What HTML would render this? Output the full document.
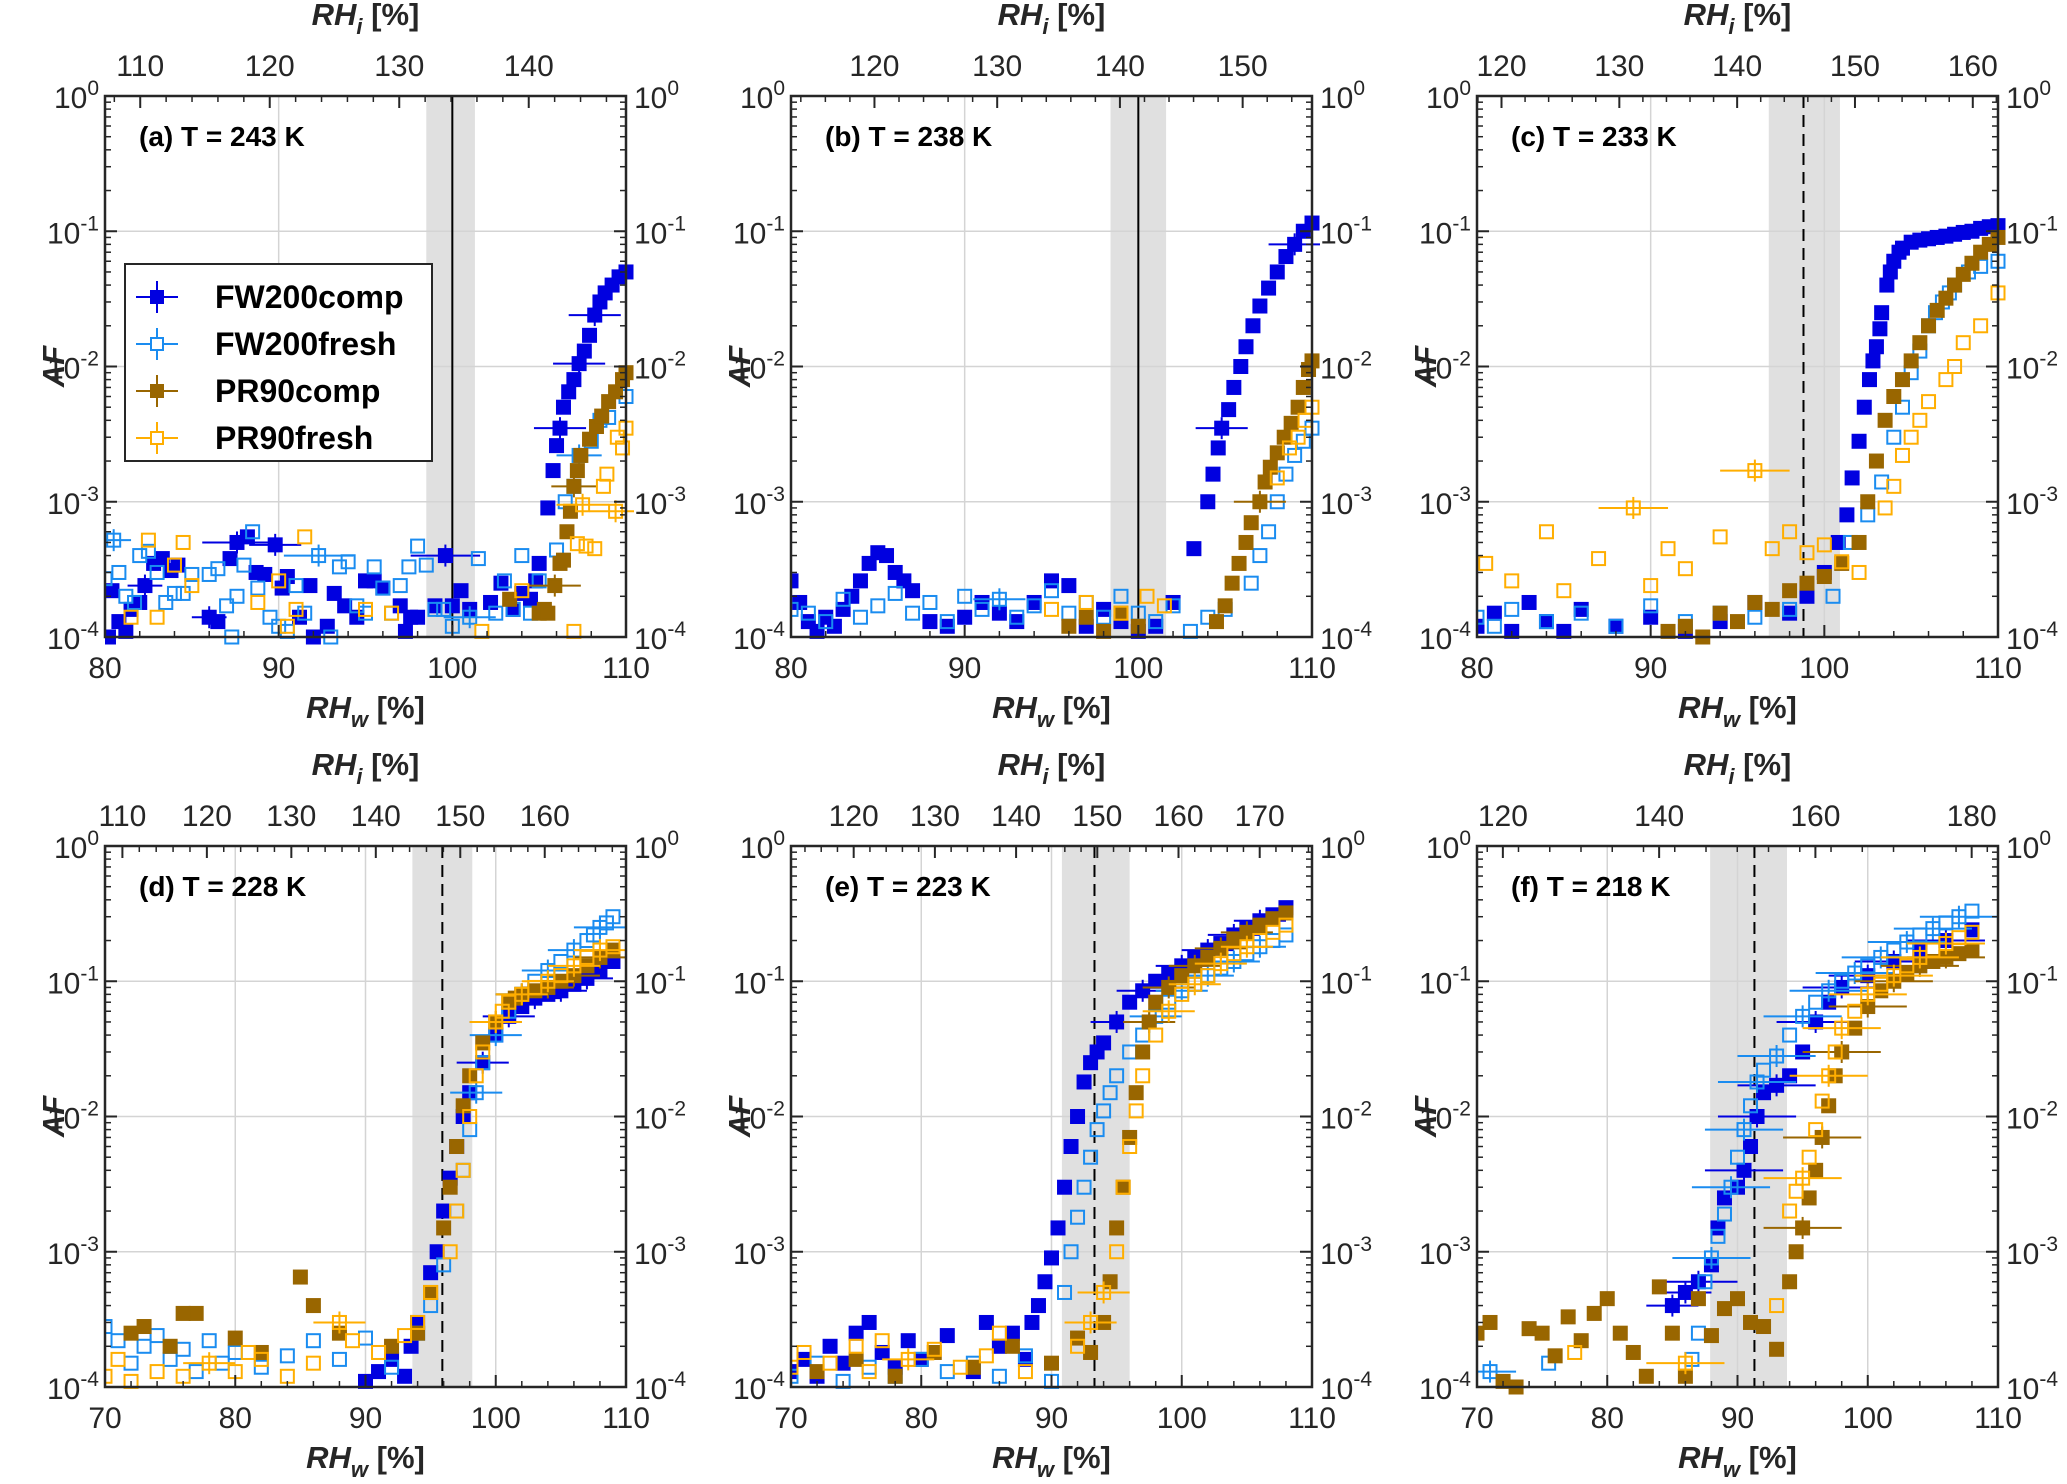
<!DOCTYPE html>
<html><head><meta charset="utf-8">
<style>
html,body{margin:0;padding:0;background:#fff;}
svg{display:block;font-family:"Liberation Sans",Arial,sans-serif;}
</style></head>
<body>
<svg id="fig" width="2067" height="1484" viewBox="0 0 2067 1484" xmlns="http://www.w3.org/2000/svg"></svg>
<script>
// ===== DATA: [RHw, AF, xerr(optional)] =====
const seriesNames = ["FW200comp","FW200fresh","PR90comp","PR90fresh"];
const titles = ["(a) T = 243 K","(b) T = 238 K","(c) T = 233 K","(d) T = 228 K","(e) T = 223 K","(f) T = 218 K"];
const xRanges = [[80,110],[80,110],[80,110],[70,110],[70,110],[70,110]];
const bottomTicks = [[80,90,100,110],[80,90,100,110],[80,90,100,110],[70,80,90,100,110],[70,80,90,100,110],[70,80,90,100,110]];
const rhiRatio = [1.341,1.415,1.474,1.542,1.604,1.667];
const topTicks = [[110,120,130,140],[120,130,140,150],[120,130,140,150,160],[110,120,130,140,150,160],[120,130,140,150,160,170],[120,140,160,180]];
const bands = [[98.5,101.3],[98.4,101.6],[96.8,100.9],[93.6,98.2],[90.8,96.0],[87.9,93.8]];
const refLines = [100,100,98.8,95.9,93.3,91.3];
const refDashed = [false,false,true,true,true,true];

const a_FWcomp=[[80.2,1e-4],[80.4,2.2e-4],[80.8,1.3e-4],[81.2,1.1e-4],[81.5,1.6e-4],[82,1.8e-4],[82.3,2.4e-4,1],[82.8,3.5e-4],[83.3,3.8e-4],[83.8,3.1e-4],[84.2,3.4e-4],[86,1.4e-4,1],[86.5,1.3e-4],[87.2,3.8e-4],[87.6,5e-4,2],[88.2,5.5e-4],[88.7,3e-4],[89.2,2.9e-4],[89.8,4.8e-4,1.5],[90.2,2.3e-4],[90.5,2.8e-4],[91.2,1.4e-4],[91.8,2.4e-4],[92,1e-4],[92.8,1.2e-4],[93.2,2.1e-4],[93.8,1.7e-4],[94.5,1.4e-4],[95,2.6e-4],[95.5,2.6e-4],[96,2.3e-4],[97,1.7e-4],[97.3,1.1e-4],[97.6,1.4e-4],[98,1.4e-4],[99,1.7e-4],[99.6,4e-4,2],[100,1.7e-4],[100.5,2.2e-4],[101,1.6e-4],[102.2,1.8e-4],[102.8,2.5e-4],[103.5,1.6e-4],[104,2.1e-4],[104.5,1.9e-4],[104.8,2.6e-4],[105,3.5e-4],[105.5,9e-4],[105.8,1.7e-3],[106,2.6e-3],[106.2,3.5e-3,1.5],[106.4,5e-3],[106.7,6.5e-3],[107,8e-3],[107.3,1.05e-2,1.5],[107.6,1.3e-2],[107.9,1.7e-2],[108.2,2.4e-2,1.5],[108.5,3e-2],[108.8,3.5e-2],[109.2,4e-2],[109.6,4.6e-2],[110,5e-2]];
const a_FWfresh=[[80,2.7e-4],[80.5,5.2e-4,1],[80.8,3e-4],[81.2,2e-4],[81.7,1.8e-4],[82,4e-4],[82.5,4.3e-4],[83,3e-4],[83.5,1.8e-4],[84,2.1e-4],[84.5,2.1e-4],[85,2.9e-4],[86,2.9e-4],[86.5,3.2e-4],[87,1.7e-4],[87.3,1e-4],[87.6,2e-4],[88,3.4e-4],[88.5,6e-4],[88.8,2.3e-4],[89.5,1.4e-4],[90,1.2e-4],[90.5,1.1e-4],[91,2.4e-4],[91.5,1.5e-4],[92.3,4e-4,2],[93,1e-4],[93.5,3.3e-4],[94,3.6e-4],[94.5,1.7e-4],[95,1.5e-4],[95.5,3.3e-4],[96,2.3e-4],[96.5,1.5e-4],[97,2.4e-4],[97.5,3.3e-4],[98,4.7e-4],[98.5,3.4e-4],[99,1.6e-4],[99.5,1.6e-4],[100,1.2e-4],[101,1.4e-4,1.5],[101.5,3.8e-4],[102.5,1.5e-4],[103,2.6e-4],[103.5,1.6e-4],[104,4e-4],[104.5,1.5e-4],[105,2.6e-4],[106,4.4e-4],[106.5,1e-3],[107,1.3e-3],[107.3,2.2e-3,1.3],[108,2.8e-3],[108.5,4e-3],[109,4.2e-3],[110,6e-3]];
const a_PRcomp=[[103.3,1.9e-4],[105,1.5e-4],[105.3,1.6e-4],[105.5,1.5e-4],[105.9,2.4e-4,1.5],[106.2,3.5e-4],[106.4,3.7e-4],[106.6,6e-4],[106.8,8.5e-4],[107,1.3e-3,1.3],[107.2,1.7e-3],[107.4,2.2e-3],[107.9,2.9e-3],[108.3,3.6e-3],[108.6,4.3e-3],[109,5.5e-3],[109.4,6.5e-3],[109.8,8e-3],[110,9e-3]];
const a_PRfresh=[[81.5,1.4e-4],[82.5,5.2e-4],[83,1.4e-4],[84,3.4e-4],[84.5,5e-4],[85,2.4e-4],[88.8,1.8e-4],[90,2.6e-4],[90.5,1.2e-4],[91,1.6e-4],[91.5,5.5e-4],[95,1.6e-4],[96.5,1.5e-4],[101.7,1.1e-4],[104,2.2e-4],[107,1.1e-4],[107.2,4.9e-4],[107.5,9.5e-4,1.5],[107.7,4.7e-4],[108.2,4.5e-4],[108.7,1.3e-3],[108.9,1.6e-3],[109.4,8.5e-4,1.5],[109.5,3e-3],[109.8,2.5e-3],[110,3.5e-3]];

const b_FWcomp=[[80,2.6e-4],[80.5,1.8e-4],[81,1.3e-4],[81.5,1.1e-4],[82,1.4e-4],[82.5,1.2e-4],[83,1.6e-4],[83.5,2e-4],[84,2.6e-4],[84.5,3.5e-4],[85,4.2e-4],[85.5,4e-4],[86,3e-4],[86.5,2.6e-4],[87,2.2e-4],[88,1.3e-4],[89,1.2e-4],[90,1.4e-4],[91,1.8e-4],[92,1.5e-4],[93,1.3e-4],[94,1.8e-4],[95,2.6e-4],[96,2.4e-4],[97,1.2e-4],[98,1.6e-4],[99,1.3e-4],[100,1.1e-4],[101,1.2e-4],[102,1.8e-4],[103.2,4.5e-4],[104,1e-3],[104.3,1.6e-3],[104.6,2.5e-3],[104.8,3.5e-3,1.5],[105.2,4.8e-3],[105.5,7e-3],[105.9,1e-2],[106.2,1.4e-2],[106.6,2e-2],[107,2.8e-2],[107.5,3.8e-2],[108,5e-2],[108.5,6.5e-2],[109,8e-2,1.5],[109.5,1e-1],[110,1.15e-1]];
const b_FWfresh=[[80,1.6e-4],[81,1.5e-4],[82,1.3e-4],[83,1.9e-4],[84,1.4e-4],[85,1.7e-4],[86,2.1e-4],[87,1.5e-4],[88,1.8e-4],[89,1.3e-4],[90,2e-4],[91,1.6e-4],[92,1.9e-4,1.5],[93,1.4e-4],[94,1.7e-4],[95,2.2e-4],[96,1.5e-4],[97,1.8e-4],[98,1.4e-4],[99,2e-4],[100,1.5e-4],[101,1.3e-4],[102,1.7e-4],[103,1.1e-4],[104,1.4e-4],[105,1.6e-4],[106.5,2.5e-4],[107,4e-4],[107.5,6e-4],[108,1e-3],[108.5,1.6e-3],[109,2.2e-3],[109.5,2.8e-3],[110,3.5e-3]];
const b_PRcomp=[[96,1.2e-4],[97,1.4e-4],[98,1.1e-4],[99,1.5e-4],[100,1.2e-4],[104.5,1.3e-4],[105,1.7e-4],[105.4,2.5e-4],[105.8,3.5e-4],[106.2,5e-4],[106.5,7e-4],[107,1e-3,1.5],[107.3,1.4e-3],[107.6,1.8e-3],[108,2.3e-3],[108.4,3e-3],[108.8,3.8e-3],[109.2,5e-3],[109.5,7e-3],[109.8,9.5e-3],[110,1.1e-2]];
const b_PRfresh=[[95,1.6e-4],[97,1.8e-4],[99,1.5e-4],[100.5,2e-4],[101.5,1.7e-4],[108,1.5e-3],[108.7,2.5e-3],[109.2,3e-3],[109.6,4e-3],[110,5e-3]];

const c_FWcomp=[[80,1.2e-4],[81,1.5e-4],[82,1.1e-4],[83,1.8e-4],[84,1.3e-4],[85,1.1e-4],[86,1.6e-4],[88,1.2e-4],[90,1.4e-4],[92,1.1e-4],[94,1.3e-4],[96,1.8e-4],[98,1.5e-4],[99,2e-4],[100,3e-4],[100.8,5e-4],[101.3,8e-4],[101.6,1.5e-3],[102,2.8e-3],[102.3,5e-3],[102.6,8e-3],[102.8,1.1e-2],[103,1.4e-2],[103.2,1.9e-2],[103.3,2.5e-2],[103.6,4e-2],[103.8,5e-2],[104,6e-2],[104.3,7e-2],[104.5,7.5e-2],[105,8.3e-2],[105.5,8.6e-2],[106,8.8e-2],[106.5,9e-2],[107,9.2e-2],[107.5,9.5e-2],[108,9.8e-2],[108.5,1e-1],[109,1.05e-1],[109.5,1.08e-1],[110,1.1e-1]];
const c_FWfresh=[[80,1.4e-4],[81,1.2e-4],[82,1.6e-4],[84,1.3e-4],[86,1.5e-4],[88,1.2e-4],[90,1.7e-4],[92,1.3e-4],[94,1.5e-4],[96,1.4e-4],[98,1.6e-4],[100.5,2e-4],[101.5,5e-4],[102.5,8e-4],[103.3,1.4e-3],[104,3e-3],[104.5,5e-3],[105,9e-3],[105.5,1.3e-2],[106,2e-2],[106.4,2.5e-2],[106.8,3e-2],[107.2,3.5e-2],[107.5,4e-2],[108.3,5e-2],[109,5.5e-2],[110,6e-2]];
const c_PRcomp=[[91,1.1e-4],[92,1.2e-4],[93,1e-4],[94,1.5e-4],[95,1.3e-4],[96,1.8e-4],[97,1.6e-4],[98,2.2e-4],[99,2.5e-4],[100,2.8e-4],[101,3.5e-4],[102,5e-4],[102.5,1e-3],[103,2e-3],[103.5,4e-3],[104,6e-3],[104.5,8e-3],[105,1.1e-2],[105.5,1.5e-2],[106,2e-2],[106.5,2.6e-2],[107,3.2e-2],[107.5,4e-2],[108,4.8e-2],[108.5,5.8e-2],[109,7e-2],[109.5,8e-2],[110,9e-2]];
const c_PRfresh=[[80.5,3.5e-4],[82,2.6e-4],[84,6e-4],[85,2.2e-4],[87,3.8e-4],[89,9e-4,2],[90,2.4e-4],[91,4.5e-4],[92,3.2e-4],[94,5.5e-4],[96,1.7e-3,2],[97,4.5e-4],[98,6e-4],[99,4.2e-4],[100,4.8e-4],[101,3.6e-4],[102,3e-4],[103.5,9e-4],[104,1.3e-3],[104.5,2.2e-3],[105,3e-3],[105.5,4e-3],[106,5.5e-3],[107,8e-3],[107.5,1e-2],[108,1.5e-2],[109,2e-2],[110,3.5e-2]];

const d_FWcomp=[[90,1.1e-4],[91,1.3e-4],[92,1.6e-4],[93,1.2e-4],[93.5,2e-4],[94,3e-4],[95,7e-4],[95.5,1e-3],[96,2e-3],[96.5,3.5e-3],[97,6e-3],[97.5,1e-2],[98,1.5e-2],[99,2.5e-2,2],[100,4e-2],[101,5.5e-2,2],[102,6.5e-2],[103,7.5e-2,2],[104,8e-2],[105,8.5e-2,2],[106,9.5e-2],[107,1.05e-1,2],[108,1.2e-1],[109,1.4e-1]];
const d_FWfresh=[[70,2.8e-4],[71,2.2e-4],[72,1.5e-4],[73,2e-4],[74,2.4e-4],[75,1.6e-4],[76,1.9e-4],[77,1.3e-4],[78,2.2e-4],[79,1.5e-4],[80,1.8e-4],[82,1.4e-4],[84,1.7e-4],[86,2.2e-4],[88,1.6e-4],[90,2.3e-4],[92,1.4e-4],[94,2.5e-4],[95,4e-4],[96,8e-4],[97,2e-3],[97.5,4e-3],[98,8e-3],[98.5,1.5e-2,2],[99,2.5e-2],[100,4e-2,2],[101,6e-2],[102,8e-2,2],[103,1e-1],[104,1.2e-1,2],[105,1.4e-1],[106,1.7e-1,2],[107,2e-1],[107.5,2.2e-1],[108,2.5e-1,2],[108.5,2.7e-1],[109,3e-1]];
const d_PRcomp=[[72,2.5e-4],[73,2.8e-4],[75,2e-4],[76,3.5e-4],[77,3.5e-4],[80,2.3e-4],[82,1.8e-4],[85,6.5e-4],[86,4e-4],[88,2.5e-4],[92,2e-4],[94,2.5e-4],[95,5e-4],[96,1.5e-3],[96.5,3e-3],[97,6e-3],[97.5,1.2e-2],[98,2e-2],[99,3.5e-2],[100,5e-2,2],[101,7e-2],[101.5,7.5e-2],[102,8e-2,2],[103,8.5e-2],[104,9e-2,2],[105,1e-1],[106,1.1e-1,2],[107,1.3e-1],[108,1.5e-1,2],[109,1.7e-1]];
const d_PRfresh=[[70,1.2e-4],[71,1.6e-4],[72,1.1e-4],[74,1.3e-4],[76,1.2e-4],[78,1.5e-4,2],[80,1.3e-4],[81,1.8e-4],[82,1.6e-4],[84,1.2e-4],[86,1.5e-4],[88,3e-4,2],[89,2.2e-4],[91,1.8e-4],[93,2.4e-4],[94,3e-4],[95,5e-4],[96.5,1e-3],[97,2e-3],[97.5,4e-3],[98,1e-2],[98.5,2e-2],[99,3e-2],[100,5e-2,2],[100.5,6e-2],[101,7e-2],[102,8e-2,2],[103,9e-2],[104,1e-1,2],[105,1.1e-1],[106,1.3e-1,2],[107,1.5e-1],[108,1.7e-1,2],[109,1.8e-1]];

const e_FWcomp=[[70,1.3e-4],[71,1.6e-4],[72,1.2e-4],[73,2e-4],[74,1.5e-4],[75,2.5e-4],[76,3e-4],[77,1.8e-4],[78,1.4e-4],[79,2.2e-4],[80,1.6e-4],[82,2.4e-4],[84,1.3e-4],[85,3e-4],[86,2e-4],[87,2.5e-4],[88,1.6e-4],[88.5,3e-4],[89,4e-4],[89.5,6e-4],[90,9e-4],[90.5,1.5e-3],[91,3e-3],[91.5,6e-3],[92,1e-2],[92.5,1.8e-2],[93,2.5e-2],[93.5,3e-2],[94,3.5e-2],[95,5e-2,2],[96,7e-2],[97,8.5e-2,2],[98,1e-1],[99,1.15e-1],[100,1.3e-1,2],[101,1.5e-1],[102,1.7e-1,2],[103,1.9e-1],[104,2.2e-1,2],[105,2.5e-1],[106,2.8e-1,2],[107,3.1e-1],[108,3.5e-1]];
const e_FWfresh=[[70,1.2e-4],[72,1.5e-4],[74,1.1e-4],[76,1.4e-4],[78,1.2e-4],[80,1.6e-4],[82,1.3e-4],[84,1.5e-4],[86,1.2e-4],[88,1.7e-4],[90,1.1e-4],[91,5e-4],[91.5,1e-3],[92,1.8e-3],[92.5,3e-3],[93,5e-3],[93.5,8e-3],[94,1.1e-2],[94.5,1.5e-2],[95,2e-2],[96,3e-2],[97,4e-2],[98,5.5e-2,2],[99,7e-2],[100,8.5e-2,2],[101,9.5e-2],[102,1.1e-1,2],[103,1.25e-1],[104,1.4e-1,2],[105,1.6e-1],[106,1.8e-1,2],[107,2e-1],[108,2.2e-1]];
const e_PRcomp=[[72,1.3e-4],[75,1.6e-4],[78,1.2e-4],[81,1.8e-4],[84,1.4e-4],[87,2e-4],[90,1.5e-4],[92,2.3e-4],[93,1.8e-4],[94,3e-4],[94.5,6e-4],[95,1.5e-3],[95.5,3e-3],[96,7e-3],[96.5,1.5e-2],[97,3e-2],[97.5,5e-2,2],[98,7e-2],[99,9e-2,2],[100,1.1e-1],[101,1.3e-1,2],[102,1.5e-1],[103,1.75e-1,2],[104,2e-1],[105,2.3e-1,2],[106,2.6e-1],[107,2.9e-1],[108,3.2e-1]];
const e_PRfresh=[[70,1.4e-4],[71,1.8e-4],[73,1.5e-4],[75,2e-4],[76,1.3e-4],[77,2.2e-4],[79,1.6e-4,2],[81,1.9e-4],[83,1.4e-4],[85,1.7e-4],[86,2.5e-4],[88,1.3e-4],[92,2e-4],[93,3e-4,2],[94,5e-4,2],[95,1e-3],[95.5,3e-3],[96,6e-3],[96.5,1.1e-2],[97,2e-2],[98,4e-2],[99,6e-2,2],[100,8e-2],[101,9.5e-2,2],[102,1.1e-1],[103,1.35e-1,2],[104,1.6e-1],[105,1.8e-1,2],[106,2e-1],[107,2.3e-1],[108,2.6e-1]];

const f_FWcomp=[[85,4e-4,2],[86,5e-4,2],[87,6e-4,3],[88,8e-4],[88.5,1.5e-3],[89,2.5e-3],[90,3e-3],[90.5,4e-3,3],[91,6e-3],[91.5,1e-2,3],[92,1.5e-2],[93,1.7e-2,3],[94,2e-2],[95,3e-2],[96,5e-2,3],[97,7e-2],[98,9e-2,3],[100,1.1e-1,3],[102,1.4e-1,3],[104,1.7e-1],[106,2e-1,3],[108,2.4e-1]];
const f_FWfresh=[[71,1.3e-4,2],[75.5,1.5e-4],[86.5,1.6e-4],[87,2.5e-4],[87.5,6e-4],[88,9e-4,3],[88.5,1.3e-3],[89,1.9e-3],[89.5,3e-3,3],[90,5e-3],[90.5,8e-3,3],[91,1.2e-2],[91.5,1.8e-2,3],[92,2.2e-2],[93,2.8e-2,3],[94,4e-2],[95,5.5e-2,3],[96,7e-2],[97,8.5e-2,3],[98,1e-1],[99,1.15e-1,3],[100,1.3e-1],[101,1.5e-1,3],[102,1.7e-1],[103,1.95e-1,3],[104,2.2e-1],[105,2.45e-1,3],[106,2.7e-1],[107,3e-1,3],[108,3.3e-1]];
const f_PRcomp=[[70,2.5e-4],[71,3e-4],[72,1.1e-4],[73,1e-4],[74,2.7e-4],[75,2.5e-4],[76,1.7e-4],[77,3.3e-4],[78,2.2e-4],[79,3.5e-4],[80,4.5e-4],[81,2.5e-4],[82,1.8e-4],[83,1.2e-4],[84,5.5e-4],[85,2.5e-4],[86,1.2e-4],[87,4.5e-4],[88,2.4e-4],[89,3.8e-4],[90,4.5e-4],[91,3e-4],[92,2.8e-4],[93,1.9e-4],[94,6e-4],[94.5,1e-3],[95,1.5e-3,3],[95.5,2.5e-3],[96,4e-3],[96.5,7e-3,3],[97,1.2e-2],[97.5,2e-2],[98,3e-2,3],[99,4.5e-2],[100,6.5e-2,3],[101,8.5e-2],[102,1e-1,3],[103,1.15e-1],[104,1.3e-1,3],[105,1.4e-1],[106,1.5e-1,3],[107,1.6e-1],[108,1.7e-1]];
const f_PRfresh=[[77.5,1.8e-4],[86,1.5e-4,3],[93,4e-4],[94,2e-3],[94.5,2.8e-3],[95,3.5e-3,3],[95.5,5e-3],[96,8e-3],[96.5,1.3e-2],[97,2e-2,3],[97.5,3e-2],[98,4.5e-2,3],[99,6e-2],[100,8e-2,3],[101,9.5e-2],[102,1.1e-1,3],[103,1.3e-1],[104,1.5e-1,3],[105,1.7e-1],[106,1.9e-1,3],[107,2.1e-1],[108,2.3e-1]];

const panelData = [
 [a_FWcomp,a_FWfresh,a_PRcomp,a_PRfresh],
 [b_FWcomp,b_FWfresh,b_PRcomp,b_PRfresh],
 [c_FWcomp,c_FWfresh,c_PRcomp,c_PRfresh],
 [d_FWcomp,d_FWfresh,d_PRcomp,d_PRfresh],
 [e_FWcomp,e_FWfresh,e_PRcomp,e_PRfresh],
 [f_FWcomp,f_FWfresh,f_PRcomp,f_PRfresh]];

// ===== LAYOUT =====
const colX=[105,791,1477], rowY=[96,846], PW=521, PH=541;
const colors=["#0000e0","#1a8cf0","#996600","#ffae00"];
const filled=[true,false,true,false];
const NS="http://www.w3.org/2000/svg";
const svg=document.getElementById('fig');
function mk(tag,attrs,parent){const e=document.createElementNS(NS,tag);for(const k in attrs)e.setAttribute(k,attrs[k]);(parent||svg).appendChild(e);return e;}

function yLabel(g,x,y,exp,anchor){
  const t=mk('text',{x:x,y:y,'font-size':30,'text-anchor':anchor,fill:'#262626'},g);
  
  
  t.appendChild(document.createTextNode('10'));
  const s=mk('tspan',{dy:-13,'font-size':21},t);s.textContent=String(exp);
}

for(let p=0;p<6;p++){
  const X0=colX[p%3], Y0=rowY[Math.floor(p/3)];
  const [xmin,xmax]=xRanges[p];
  const sx=v=>X0+(v-xmin)/(xmax-xmin)*PW;
  const sy=v=>Y0+(-Math.log10(v))/4*PH;
  const g=mk('g',{});
  
  
  const bd=mk('rect',{x:sx(bands[p][0]),y:Y0,width:sx(bands[p][1])-sx(bands[p][0]),height:PH,fill:'#e0e0e0'},g);
  
  
  for(const t of bottomTicks[p]){const l=mk('line',{x1:sx(t),x2:sx(t),y1:Y0,y2:Y0+PH,stroke:'#d4d4d4','stroke-width':1.5},g);
    }
  for(let e=-3;e<=-1;e++){const l=mk('line',{x1:X0,x2:X0+PW,y1:sy(Math.pow(10,e)),y2:sy(Math.pow(10,e)),stroke:'#d4d4d4','stroke-width':1.5},g);
    }
  const rl=mk('line',{x1:sx(refLines[p]),x2:sx(refLines[p]),y1:Y0,y2:Y0+PH,stroke:'#000','stroke-width':2},g);
  if(refDashed[p]) rl.setAttribute('stroke-dasharray','12,7');
  
  
  const cp=mk('clipPath',{id:'cp'+p},g);mk('rect',{x:X0,y:Y0-8,width:PW+8,height:PH+16},cp);
  const dg=mk('g',{'clip-path':'url(#cp'+p+')'},g);
  for(let s=0;s<4;s++){
    const sg=mk('g',{},dg);
    
    
    for(const pt of panelData[p][s]){
      const cx=sx(pt[0]), cy=sy(pt[1]);
      if(pt[2]){const eb=mk('line',{x1:sx(pt[0]-pt[2]),x2:sx(pt[0]+pt[2]),y1:cy,y2:cy,stroke:colors[s],'stroke-width':2},sg);
        
        const ev=mk('line',{x1:cx,x2:cx,y1:cy-11,y2:cy+11,stroke:colors[s],'stroke-width':2},sg);
        }
      const m=mk('rect',{x:cx-6.5,y:cy-6.5,width:13,height:13,fill:filled[s]?colors[s]:'none',stroke:colors[s],'stroke-width':2},sg);
      
      
    }
  }
  const box=mk('rect',{x:X0,y:Y0,width:PW,height:PH,fill:'none',stroke:'#262626','stroke-width':2.5},g);
  
  for(let e=0;e>=-4;e--){
    const y=sy(Math.pow(10,e));
    mk('line',{x1:X0,x2:X0+12,y1:y,y2:y,stroke:'#262626','stroke-width':2},g);
    mk('line',{x1:X0+PW,x2:X0+PW-12,y1:y,y2:y,stroke:'#262626','stroke-width':2},g);
    yLabel(g,X0-6,y+12,e,'end');
    yLabel(g,X0+PW+8,y+12,e,'start');
    if(e>-4) for(let k=2;k<=9;k++){const yy=sy(k*Math.pow(10,e-1));
      mk('line',{x1:X0,x2:X0+6,y1:yy,y2:yy,stroke:'#262626','stroke-width':1.5},g);
      mk('line',{x1:X0+PW,x2:X0+PW-6,y1:yy,y2:yy,stroke:'#262626','stroke-width':1.5},g);}
  }
  for(const t of bottomTicks[p]){
    mk('line',{x1:sx(t),x2:sx(t),y1:Y0+PH,y2:Y0+PH-12,stroke:'#262626','stroke-width':2},g);
    const tl=mk('text',{x:sx(t),y:Y0+PH+41,'font-size':30,'text-anchor':'middle',fill:'#262626'},g);
    tl.textContent=t;
  }
  for(let v=xmin+2;v<xmax;v+=2){if(v%10) mk('line',{x1:sx(v),x2:sx(v),y1:Y0+PH,y2:Y0+PH-6,stroke:'#262626','stroke-width':1.5},g);}
  const r=rhiRatio[p];
  for(const t of topTicks[p]){
    const x=sx(t/r);
    mk('line',{x1:x,x2:x,y1:Y0,y2:Y0+12,stroke:'#262626','stroke-width':2},g);
    const tl=mk('text',{x:x,y:Y0-20,'font-size':30,'text-anchor':'middle',fill:'#262626'},g);
    tl.textContent=t;
  }
  const step=topTicks[p][1]-topTicks[p][0];
  for(let v=Math.ceil(xmin*r/2)*2;v<xmax*r;v+=step/5){if(v%step) {const x=sx(v/r);if(x>X0&&x<X0+PW) mk('line',{x1:x,x2:x,y1:Y0,y2:Y0+6,stroke:'#262626','stroke-width':1.5},g);}}
  const cx=X0+PW/2;
  const xt=mk('text',{x:cx,y:Y0+PH+81,'font-size':31,'font-weight':'bold','text-anchor':'middle',fill:'#262626'},g);
  
  xt.innerHTML='<tspan font-style="italic">RH</tspan><tspan font-style="italic" font-size="22" dy="9">w</tspan><tspan dy="-9"> [%]</tspan>';
  const tt=mk('text',{x:cx,y:Y0-71,'font-size':31,'font-weight':'bold','text-anchor':'middle',fill:'#262626'},g);
  
  tt.innerHTML='<tspan font-style="italic">RH</tspan><tspan font-style="italic" font-size="22" dy="9">i</tspan><tspan dy="-9"> [%]</tspan>';
  const yt=mk('text',{x:0,y:0,'font-size':31,'font-weight':'bold','font-style':'italic','text-anchor':'middle',fill:'#262626',transform:`translate(${X0-41},${Y0+PH/2}) rotate(-90)`},g);
  yt.textContent='AF';
  const pt=mk('text',{x:X0+34,y:Y0+50,'font-size':28,'font-weight':'bold',fill:'#000'},g);
  pt.textContent=titles[p];
}

const lg=mk('g',{});


mk('rect',{x:125,y:264,width:307,height:197,fill:'#fff',stroke:'#262626','stroke-width':2},lg);
for(let s=0;s<4;s++){
  const y=297+s*47;
  const e=mk('g',{},lg);
  
  
  mk('line',{x1:136,x2:178,y1:y,y2:y,stroke:colors[s],'stroke-width':2},e);
  mk('line',{x1:157,x2:157,y1:y-16,y2:y+16,stroke:colors[s],'stroke-width':2},e);
  mk('rect',{x:151,y:y-6,width:12,height:12,fill:filled[s]?colors[s]:'#fff',stroke:colors[s],'stroke-width':2},e);
  const t=mk('text',{x:215,y:y+11,'font-size':32,'font-weight':'bold',fill:'#000'},e);
  t.textContent=seriesNames[s];
}
</script>
</body></html>
